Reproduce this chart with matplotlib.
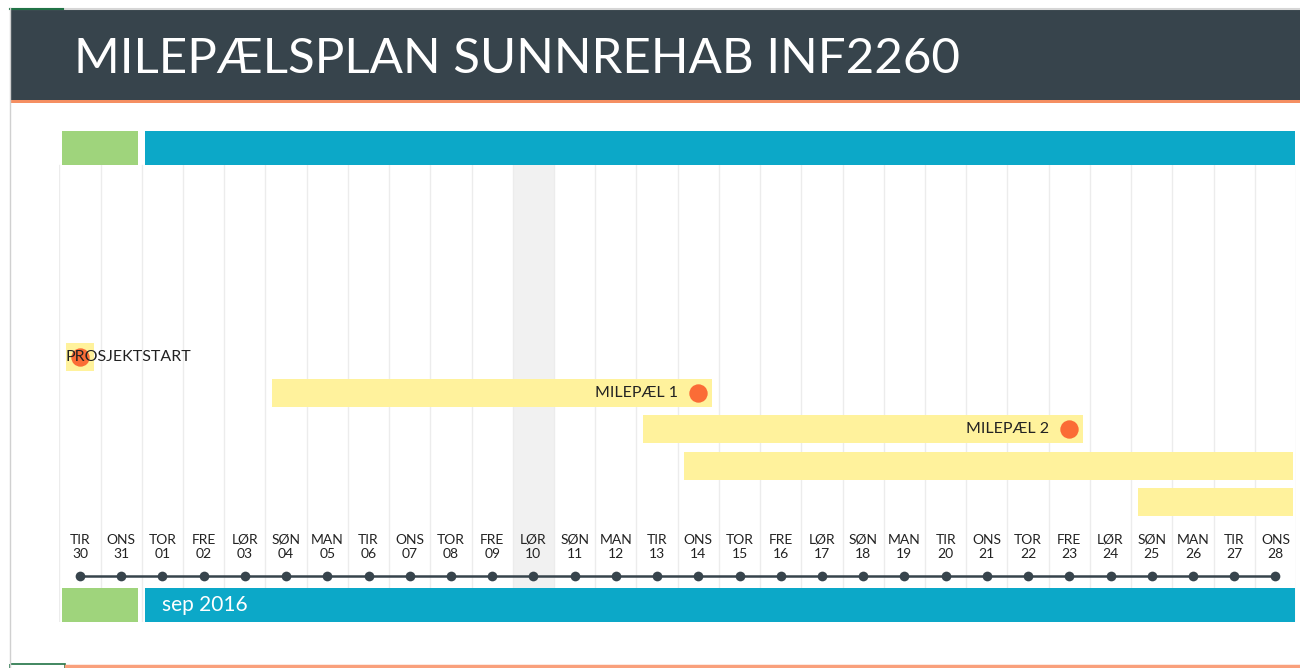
import numpy as np
import pandas as pd
import matplotlib.pyplot as plt
from matplotlib.patches import Rectangle

plt.rcParams['font.family'] = ['Lato', 'DejaVu Sans']

# data
title = "MILEPÆLSPLAN SUNNREHAB INF2260"
first_day = "2016-08-30"
n_days = 30
weekday_names = ["MAN", "TIR", "ONS", "TOR", "FRE", "LØR", "SØN"]
month_names = ["", "sep 2016"]
month_starts = ["2016-08-30", "2016-09-01"]
month_ends = ["2016-08-31", "2016-09-30"]
highlight_day = "2016-09-10"

task_labels = ["PROSJEKTSTART", "MILEPÆL 1", "MILEPÆL 2", "", ""]
task_starts = ["2016-08-30", "2016-09-04", "2016-09-13", "2016-09-14", "2016-09-25"]
task_ends = ["2016-08-30", "2016-09-14", "2016-09-23", "2016-10-05", "2016-10-05"]
task_milestone = [True, True, True, False, False]

# colours
DARK = "#37444c"
ORANGE_LINE = "#f58f62"
GREEN = "#9fd47c"
BLUE = "#0ca8c8"
YELLOW = "#fff29c"
DOT = "#fb6c36"
GRID = "#ececec"
SHADE = "#f1f1f1"

days = pd.date_range(first_day, periods=n_days, freq="D")
t0 = days[0]


def day_index(d):
    return (pd.Timestamp(d) - t0).days


W, H = 1300, 668
fig = plt.figure(figsize=(W / 100, H / 100), dpi=100)
fig.patch.set_facecolor("white")

# page decorations (figure pixels)
bg = fig.add_axes([0, 0, 1, 1])
bg.set_xlim(0, W)
bg.set_ylim(H, 0)
bg.axis("off")
bg.add_patch(Rectangle((10, 10), W - 10, 90, color=DARK, lw=0))
bg.add_patch(Rectangle((10, 100), W - 10, 2.5, color=ORANGE_LINE, lw=0))
bg.plot([10, W], [8.5, 8.5], color="#d6d6d6", lw=1.5)
bg.plot([10, 63], [9, 9], color="#217346", lw=1.5)
bg.plot([10, 10], [8, H], color="#d0d0d0", lw=1)
bg.plot([66, W], [665.5, 665.5], color="#f9a07c", lw=2.5)
bg.add_patch(Rectangle((10, 663.5), 55, 6, fill=False, ec="#217346", lw=1.2))
bg.text(74, 59, title, color="white", fontsize=35.5, va="center", ha="left")

# main timeline axes: x in day index, y in row units (row = 36.25 px)
row_px = 36.25
y0_px = 357
px_left = 80 - 0.5 * 41.22
px_right = 80 + 29.5 * 41.22
top_px, bot_px = 131, 622
ax = fig.add_axes([px_left / W, 1 - bot_px / H, (px_right - px_left) / W, (bot_px - top_px) / H])
ax.set_xlim(-0.5, n_days - 0.5)
ax.set_ylim((bot_px - y0_px) / row_px, (top_px - y0_px) / row_px)
ax.axis("off")


def yr(px):
    return (px - y0_px) / row_px


month_y_top = yr(148)
month_y_bot = yr(605)
month_h = 34 / row_px
grid_top = yr(165)

# grid lines + shaded day
hi = day_index(highlight_day)
ax.add_patch(Rectangle((hi - 0.5, grid_top), 1, yr(588) - grid_top, color=SHADE, lw=0, zorder=0))
for k in range(n_days + 1):
    ax.plot([k - 0.5, k - 0.5], [grid_top, yr(622)], color=GRID, lw=1, zorder=0.5)

# month bars (top and bottom)
for name, s, e in zip(month_names, month_starts, month_ends):
    s_i = max(day_index(s), 0)
    e_i = min(day_index(e), n_days - 1)
    color = GREEN if name == "" else BLUE
    x0 = s_i - 0.5 + (0.08 if s_i > 0 else 0.06)
    x1 = e_i + 0.5 - 0.09 if e_i < n_days - 1 else e_i + 0.48
    for yc in (month_y_top, month_y_bot):
        ax.barh(yc, x1 - x0, left=x0, height=month_h, color=color, lw=0, zorder=2)
    if name:
        ax.text(x0 + 0.4, month_y_bot, name, color="white", fontsize=15,
                va="center", ha="left", zorder=3)

# tasks
pad = 0.34
bar_h = 28 / row_px
for r, (lab, s, e, ms) in enumerate(zip(task_labels, task_starts, task_ends, task_milestone)):
    s_i = day_index(s) - pad
    e_i = min(day_index(e) + pad, n_days - 0.58)
    ax.barh(r, e_i - s_i, left=s_i, height=bar_h, color=YELLOW, lw=0, zorder=2)
    if ms:
        m = day_index(e)
        ax.scatter([m], [r], s=175, color=DOT, lw=0, zorder=4)
        if r == 0:
            ax.text(m - 0.36, r, lab, fontsize=11.5, color="#222222", va="center",
                    ha="left", zorder=5)
        else:
            ax.text(m - 0.5, r, lab, fontsize=11.5, color="#222222", va="center",
                    ha="right", zorder=5)

# timeline with day labels
x_idx = np.arange(n_days)
ax.plot(x_idx, [yr(576)] * n_days, color=DARK, lw=1.8, zorder=3,
        marker="o", markersize=7, markerfacecolor=DARK, markeredgewidth=0)
for i, d in enumerate(days):
    ax.text(i, yr(540), weekday_names[d.weekday()], fontsize=10, color="#222222",
            ha="center", va="center", zorder=3)
    ax.text(i, yr(554), f"{d.day:02d}", fontsize=10, color="#222222",
            ha="center", va="center", zorder=3)

fig.savefig("out.png", dpi=100)
